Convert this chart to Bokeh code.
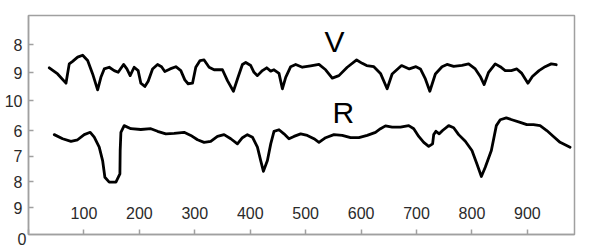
from bokeh.plotting import figure
from bokeh.models import Range1d, FixedTicker
from bokeh.embed import file_html
from bokeh.resources import INLINE
from bokeh.core.properties import value

# ---- data ----
v_day = [37.5, 52.6, 67.6, 73.5, 79.6, 88.6, 97.7, 106.7, 115.7, 124.7, 130.6, 136.6, 145.6,
         154.6, 161.8, 171.5, 177.5, 183.4, 190.6, 197.8, 202.7, 209.9, 215.9, 223.8, 232.8,
         240, 245.9, 255.5, 265.8, 274.8, 282, 287.9, 295.9, 301.8, 309.5, 316.8, 325.8,
         334.8, 349.9, 358.9, 369.7, 378, 385.9, 391.9, 400.9, 406.8, 413, 422, 429.7, 436.9,
         442.9, 451.9, 458, 464, 473, 482, 494, 509, 524, 536, 548, 560, 575, 592, 602, 610,
         623, 635, 647, 656, 673, 680, 687, 699, 707, 716, 724, 734, 746, 755, 767, 782, 794,
         806, 815, 822, 830, 842, 851, 860, 871, 881, 890, 901, 909, 921, 932, 943, 952]
v_mag = [8.83, 9.05, 9.38, 8.69, 8.60, 8.45, 8.38, 8.57, 9.05, 9.62, 9.17, 8.87, 8.81,
         8.93, 8.99, 8.71, 8.87, 9.11, 8.81, 8.93, 9.38, 9.50, 9.31, 8.87, 8.71,
         8.79, 8.96, 8.87, 8.79, 8.93, 9.26, 9.40, 9.38, 8.81, 8.57, 8.55, 8.81,
         8.90, 8.90, 9.29, 9.67, 9.17, 8.71, 8.64, 8.75, 8.99, 9.11, 8.93, 8.83, 8.95,
         8.90, 9.03, 9.58, 9.17, 8.79, 8.71, 8.81, 8.76, 8.71, 8.90, 9.20, 9.11, 8.81, 8.55, 8.67, 8.75,
         8.79, 9.03, 9.58, 9.05, 8.75, 8.81, 8.87, 8.79, 8.87, 9.23, 9.67, 9.05, 8.79, 8.71, 8.78, 8.74, 8.69,
         8.87, 9.14, 9.43, 8.99, 8.69, 8.79, 8.93, 8.93, 8.87, 9.03, 9.38, 9.14, 8.93, 8.79, 8.69, 8.72]

r_day = [46.5, 61.6, 76.6, 88.6, 100.5, 111.4, 118.6, 127.6, 133.7, 137.8, 145.6, 157.7, 164.9,
         165.4, 166.7, 172.6, 184.7, 202.7, 220.7, 232.8, 247.7, 262.7, 280.7, 292.8, 304.9,
         316.8, 328.8, 340.9, 352.8, 364.9, 376.9, 385.9, 394.9, 404, 413, 418.9, 423.8, 431,
         437, 442.9, 451.9, 460.9, 469.9, 478.9, 491, 503, 515, 524, 536, 551, 566, 581, 596,
         611, 626, 635, 644, 656, 671, 686, 695, 704, 713, 722, 729, 731, 735, 741, 747, 758,
         767, 776, 788, 800, 809, 817, 824, 835, 844, 851, 862, 872, 887, 899, 911, 923, 935,
         947, 959, 977]
r_mag = [6.16, 6.32, 6.42, 6.36, 6.16, 6.07, 6.26, 6.65, 7.17, 7.82, 8.01, 8.01, 7.69,
         6.78, 6.07, 5.81, 5.93, 5.96, 5.93, 6.03, 6.13, 6.11, 6.07, 6.19, 6.36,
         6.46, 6.42, 6.23, 6.16, 6.32, 6.52, 6.28, 6.16, 6.26, 6.65, 7.17, 7.59, 7.17,
         6.52, 6.03, 5.97, 6.13, 6.32, 6.23, 6.13, 6.19, 6.32, 6.46, 6.28, 6.16, 6.19, 6.28, 6.28,
         6.19, 6.07, 5.93, 5.82, 5.87, 5.87, 5.81, 5.93, 6.23, 6.46, 6.62, 6.52, 6.16, 6.03, 6.13, 6.00, 5.81,
         5.89, 6.16, 6.42, 6.78, 7.30, 7.79, 7.43, 6.78, 5.81, 5.58, 5.51, 5.58, 5.68, 5.77, 5.77, 5.81, 6.00,
         6.23, 6.46, 6.65]

x_ticks = [100, 200, 300, 400, 500, 600, 700, 800, 900]
x_origin = 0
v_ticks = [8, 9, 10]
r_ticks = [6, 7, 8, 9]

# ---- ranges ----
R_TOP, R_BOT = 1.52, 10.05
V_TOP, V_BOT = 6.96, 14.79


def v_to_r(v):
    return R_TOP + (v - V_TOP) * (R_BOT - R_TOP) / (V_BOT - V_TOP)


FONT = "Liberation Sans"
GRAY = "#a0a0a0"
TXT = "#2a2a2a"

p = figure(frame_width=546, frame_height=219, output_backend="svg", toolbar_location=None,
           x_range=Range1d(0, 985), y_range=Range1d(R_BOT, R_TOP),
           min_border_left=28, min_border_right=20, min_border_top=15, min_border_bottom=14)
p.extra_y_ranges = {"v": Range1d(V_BOT, V_TOP)}
p.xgrid.visible = False
p.ygrid.visible = False
p.outline_line_color = GRAY
p.outline_line_width = 1.5
p.background_fill_color = "white"
p.border_fill_color = "white"

# left axis: ticks for both scales
left_pos = [v_to_r(v) for v in v_ticks] + r_ticks
left_lab = [str(v) for v in v_ticks] + [str(r) for r in r_ticks]
ya = p.yaxis[0]
ya.ticker = FixedTicker(ticks=left_pos)
ya.major_label_overrides = {pos: lab for pos, lab in zip(left_pos, left_lab)}
ya.major_tick_in = 5
ya.major_tick_out = 0
ya.minor_tick_line_color = None
ya.axis_line_color = GRAY
ya.axis_line_width = 1.5
ya.major_tick_line_color = GRAY
ya.major_tick_line_width = 1.5
ya.major_label_standoff = 6
ya.major_label_text_font = FONT
ya.major_label_text_font_size = "16px"
ya.major_label_text_color = TXT

# bottom axis: inward ticks; only the origin "0" is labelled below the frame
xa = p.xaxis[0]
xa.ticker = FixedTicker(ticks=[x_origin] + x_ticks)
xa.major_label_overrides = {t: "" for t in x_ticks}
xa.major_label_overrides[x_origin] = "0\u00a0\u00a0\u00a0"
xa.major_label_text_font = FONT
xa.major_label_text_font_size = "16px"
xa.major_label_text_color = TXT
xa.major_label_standoff = -4
xa.major_tick_in = 5
xa.major_tick_out = 0
xa.minor_tick_line_color = None
xa.axis_line_color = GRAY
xa.axis_line_width = 1.5
xa.major_tick_line_color = GRAY
xa.major_tick_line_width = 1.5

# curves
p.line(v_day, v_mag, y_range_name="v", line_color="black", line_width=2.8,
       line_join="round", line_cap="round")
p.line(r_day, r_mag, line_color="black", line_width=2.8,
       line_join="round", line_cap="round")

# x tick labels inside the frame
p.text(x=x_ticks, y=[9.23] * len(x_ticks), text=[str(t) for t in x_ticks],
       text_font=value(FONT), text_font_size="16px", text_color=TXT,
       text_align="center", text_baseline="middle")

# series names
p.text(x=[552], y=[7.89], text=["V"], y_range_name="v", text_font=value(FONT),
       text_font_size="30px", text_color="black", text_align="center", text_baseline="middle")
p.text(x=[568], y=[5.28], text=["R"], text_font=value(FONT),
       text_font_size="30px", text_color="black", text_align="center", text_baseline="middle")

open("out.html", "w").write(file_html(p, INLINE))
